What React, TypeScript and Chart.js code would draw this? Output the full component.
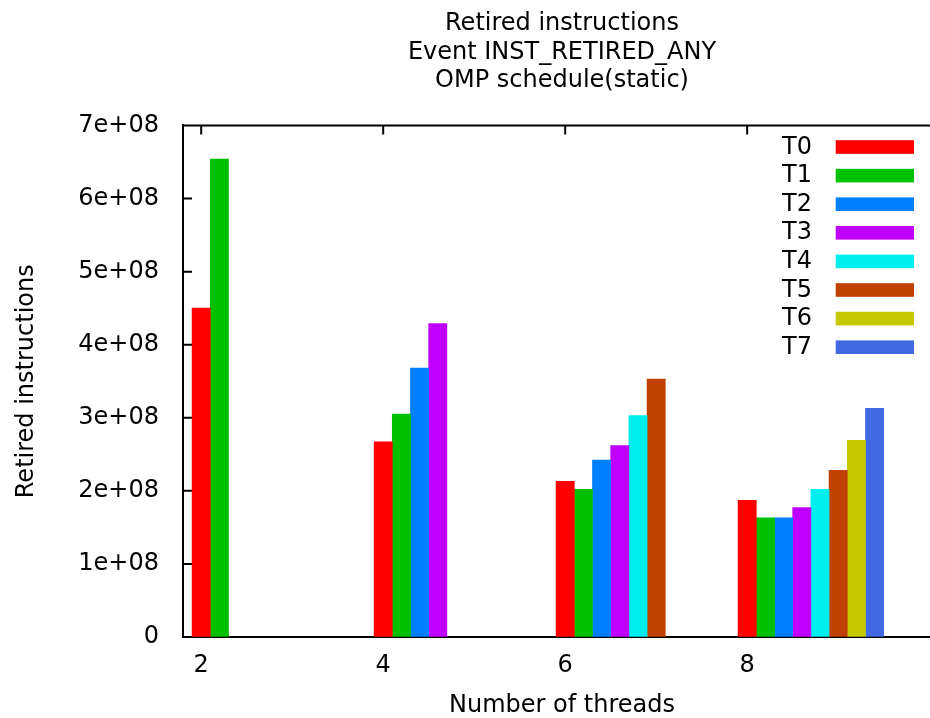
import React, { useEffect, useRef } from "react";
import { Chart, registerables } from "chart.js";

Chart.register(...registerables);

// ---- data ----
const threadCounts = [2, 4, 6, 8];
const xTickLabels = ["2", "4", "6", "8"];
const yTickLabels = ["0", "1e+08", "2e+08", "3e+08", "4e+08", "5e+08", "6e+08", "7e+08"];
const seriesNames = ["T0", "T1", "T2", "T3", "T4", "T5", "T6", "T7"];

const t0 = [4.5e8, 2.67e8, 2.13e8, 1.87e8];
const t1 = [6.54e8, 3.05e8, 2.02e8, 1.63e8];
const t2 = [null, 3.68e8, 2.42e8, 1.63e8];
const t3 = [null, 4.29e8, 2.62e8, 1.77e8];
const t4 = [null, null, 3.03e8, 2.02e8];
const t5 = [null, null, 3.53e8, 2.28e8];
const t6 = [null, null, null, 2.69e8];
const t7 = [null, null, null, 3.13e8];
const seriesValues = [t0, t1, t2, t3, t4, t5, t6, t7];

const titleLines = ["Retired instructions", "Event INST_RETIRED_ANY", "OMP schedule(static)"];
const xTitle = "Number of threads";
const yTitle = "Retired instructions";

// ---- style ----
const colors = ["#ff0000", "#00c000", "#0080ff", "#c000ff", "#00eeee", "#c04000", "#c8c800", "#4169e1"];
const barStep = 0.2; // offset of each thread's bar within a group, in x units
const FONT = "'DejaVu Sans', sans-serif";

const inwardTicks = {
  id: "inwardTicks",
  beforeDatasetsDraw(chart: any) {
    const { ctx, chartArea: a, scales } = chart;
    const x = scales.x;
    const y = scales.y;
    ctx.save();
    ctx.strokeStyle = "#000";
    ctx.lineWidth = 2;
    ctx.beginPath();
    ctx.moveTo(a.left, a.top);
    ctx.lineTo(a.right, a.top);
    y.ticks.forEach((t: any) => {
      const p = y.getPixelForValue(t.value);
      ctx.moveTo(a.left, p);
      ctx.lineTo(a.left + 9, p);
    });
    x.ticks.forEach((t: any) => {
      const p = x.getPixelForValue(t.value);
      ctx.moveTo(p, a.bottom);
      ctx.lineTo(p, a.bottom - 9);
      ctx.moveTo(p, a.top);
      ctx.lineTo(p, a.top + 9);
    });
    ctx.stroke();
    ctx.restore();
  },
};

const keyLegend = {
  id: "keyLegend",
  afterDraw(chart: any) {
    const { ctx, chartArea: a } = chart;
    ctx.save();
    ctx.font = `24px ${FONT}`;
    ctx.textAlign = "right";
    ctx.textBaseline = "middle";
    chart.data.datasets.forEach((ds: any, i: number) => {
      const top = a.top + 14.7 + i * 28.6;
      ctx.fillStyle = ds.backgroundColor;
      ctx.fillRect(a.right - 27 - 78.3, top, 78.3, 13.6);
      ctx.fillStyle = "#000";
      ctx.fillText(ds.label, a.right - 129, top + 7.2);
    });
    ctx.restore();
  },
};

export default function App() {
  const ref = useRef<HTMLCanvasElement | null>(null);

  useEffect(() => {
    if (!ref.current) return;
    Chart.defaults.font.family = FONT;
    Chart.defaults.color = "#000";

    const datasets = seriesNames.map((name, i) => ({
      label: name,
      backgroundColor: colors[i],
      borderWidth: 0,
      data: threadCounts
        .map((n, j) => ({ x: n + i * barStep, y: seriesValues[i][j] }))
        .filter((p) => p.y !== null),
    }));

    const tickFont = { family: FONT, size: 24 };

    const chart = new Chart(ref.current, {
      type: "bar",
      data: { datasets: datasets as any },
      plugins: [inwardTicks, keyLegend],
      options: {
        animation: false,
        responsive: false,
        devicePixelRatio: 1,
        layout: { padding: { left: 0, right: 11, top: 0, bottom: 0 } },
        datasets: { bar: { grouped: false, categoryPercentage: 1, barPercentage: 1 } } as any,
        plugins: {
          legend: { display: false },
          tooltip: { enabled: false },
          title: {
            display: true,
            text: titleLines,
            fullSize: false,
            color: "#000",
            font: { family: FONT, size: 24, weight: "normal", lineHeight: 28.4 / 24 },
            padding: { top: 10, bottom: 30.3 },
          },
        },
        scales: {
          x: {
            type: "linear",
            offset: false,
            min: 1.8,
            max: 10.13,
            afterBuildTicks: (s: any) => {
              s.ticks = threadCounts.map((v) => ({ value: v }));
            },
            afterFit: (s: any) => {
              s.height = 81;
            },
            ticks: {
              callback: (_v: any, i: number) => xTickLabels[i],
              padding: 14,
              color: "#000",
              font: tickFont,
              maxRotation: 0,
              autoSkip: false,
            },
            grid: { display: true, offset: false, drawOnChartArea: false, drawTicks: false },
            border: { display: true, color: "#000", width: 2 },
            title: {
              display: true,
              text: xTitle,
              color: "#000",
              font: { family: FONT, size: 24, lineHeight: 1 },
              padding: { top: 0, bottom: 0 },
            },
          },
          y: {
            type: "linear",
            min: 0,
            max: 7e8,
            afterFit: (s: any) => {
              s.width = 183;
            },
            ticks: {
              stepSize: 1e8,
              callback: (_v: any, i: number) => yTickLabels[i],
              padding: 24,
              color: "#000",
              font: tickFont,
            },
            grid: { display: true, drawOnChartArea: false, drawTicks: false },
            border: { display: true, color: "#000", width: 2 },
            title: {
              display: true,
              text: yTitle,
              color: "#000",
              font: { family: FONT, size: 24, lineHeight: 1 },
              padding: { top: 14.7, bottom: 0 },
            },
          },
        },
      } as any,
    });

    return () => chart.destroy();
  }, []);

  return (
    <div
      style={{
        position: "fixed",
        left: 0,
        top: 0,
        width: 930,
        height: 718,
        overflow: "hidden",
        background: "#fff",
      }}
    >
      <canvas ref={ref} width={952} height={718} style={{ display: "block" }} />
    </div>
  );
}
